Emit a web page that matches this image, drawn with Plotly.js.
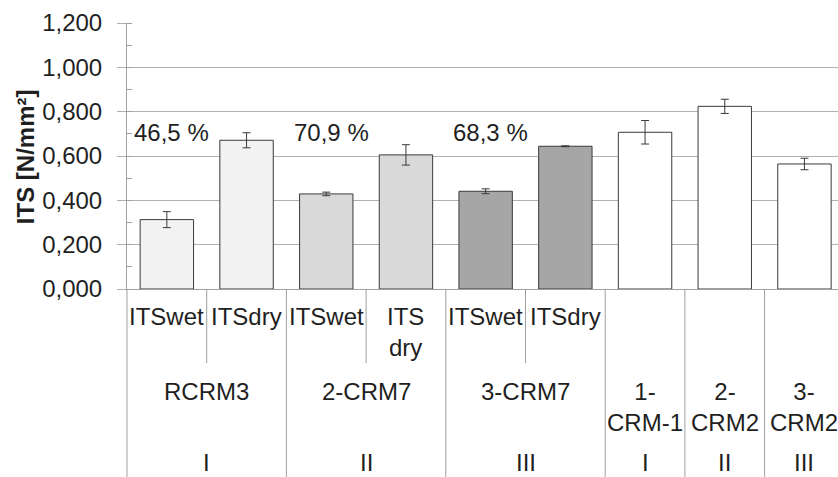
<!DOCTYPE html>
<html>
<head>
<meta charset="utf-8">
<script src="https://cdn.plot.ly/plotly-3.0.1.min.js"></script>
<style>html,body{margin:0;padding:0;overflow:hidden;background:#fff}</style>
</head>
<body>
<div id="chart" style="width:838px;height:477px"></div>
<script>
// ---- data ----
const level1 = ['ITSwet','ITSdry','ITSwet','ITS<br>dry','ITSwet','ITSdry','','',''];
const level2 = ['RCRM3','2-CRM7','3-CRM7','1-<br>CRM-1','2-<br>CRM2','3-<br>CRM2'];
const level2Span = [2,2,2,1,1,1];
const level3 = ['I','II','III','I','II','III'];
const itsValues = [0.313,0.671,0.429,0.605,0.441,0.644,0.707,0.824,0.564];
const itsErrors = [0.036,0.034,0.008,0.046,0.011,0.002,0.053,0.032,0.026];
const ratioLabels = ['46,5 %','70,9 %','68,3 %'];
const ratioBarIndex = [0,2,4];
const ratioY = 0.708;
const yTickVals = [0,0.2,0.4,0.6,0.8,1.0,1.2];
const yTitle = 'ITS [N/mm²]';

// ---- styles ----
const barColors = ['#f2f2f2','#f2f2f2','#d9d9d9','#d9d9d9','#a6a6a6','#a6a6a6','#ffffff','#ffffff','#ffffff'];
const FONT = '"Liberation Sans", Arial, sans-serif';
const TXT = '#1f1f1f';
const SEP = '#a0a0a0';
const FS = 24;

const xIdx = itsValues.map((_, i) => i);

const trace = {
  type: 'bar',
  x: xIdx,
  y: itsValues,
  marker: {color: barColors, line: {color: '#3a3a3a', width: 1}},
  error_y: {type: 'data', array: itsErrors, visible: true, color: '#3a3a3a', thickness: 1, width: 4},
  hoverinfo: 'none'
};

const annotations = [];
const shapes = [];

// level 1 labels
level1.forEach((t, i) => {
  if (!t) return;
  annotations.push({xref:'x', yref:'paper', x:i, y:-0.05, yanchor:'top', xanchor:'center',
    text:t, showarrow:false, font:{family:FONT, size:FS, color:TXT}, align:'center', borderpad:0});
});

// group separators & level2/level3 labels
let start = 0;
const fullY = -188/266;
const shortY = (289.3-363.3)/266;
level2.forEach((t, g) => {
  const span = level2Span[g];
  const center = start + (span - 1) / 2;
  annotations.push({xref:'x', yref:'paper', x:center, y:-0.332, yanchor:'top', xanchor:'center',
    text:t, showarrow:false, font:{family:FONT, size:FS, color:TXT}, align:'center', borderpad:0});
  annotations.push({xref:'x', yref:'paper', x:center, y:-0.598, yanchor:'top', xanchor:'center',
    text:level3[g], showarrow:false, font:{family:FONT, size:FS, color:TXT}, borderpad:0});
  for (let k = 1; k < span; k++) {
    const xs = start + k - 0.5;
    shapes.push({type:'line', xref:'x', yref:'paper', x0:xs, x1:xs, y0:0, y1:shortY,
      line:{color:SEP, width:1}});
  }
  const xe = start + span - 0.5;
  shapes.push({type:'line', xref:'x', yref:'paper', x0:xe, x1:xe, y0:0, y1:fullY,
    line:{color:SEP, width:1}});
  start += span;
});
shapes.push({type:'line', xref:'paper', yref:'paper', x0:0, x1:0, y0:0, y1:fullY,
  line:{color:SEP, width:1}});

// ratio labels
ratioLabels.forEach((t, k) => {
  annotations.push({xref:'x', yref:'y', x:ratioBarIndex[k], y:ratioY, xshift:5,
    yanchor:'middle', xanchor:'center', text:t, showarrow:false,
    font:{family:FONT, size:FS, color:TXT}});
});

// y-axis title
annotations.push({xref:'paper', yref:'paper', x:(25-127)/711, y:(289.3-157.5)/266,
  xanchor:'center', yanchor:'middle', textangle:-90, text:'<b>'+yTitle+'</b>', showarrow:false,
  font:{family:FONT, size:FS, color:TXT}, borderpad:0});

const layout = {
  width: 838, height: 477,
  margin: {l:127, r:0, t:23, b:188, pad:0},
  paper_bgcolor: '#fff', plot_bgcolor: '#fff',
  separators: ',.',
  showlegend: false,
  bargap: 0.33,
  font: {family: FONT, size: FS, color: TXT},
  xaxis: {
    type:'linear', range:[-0.5, 8.421], showticklabels:false, showgrid:false,
    zeroline:false, showline:true, linecolor:SEP, linewidth:1, ticks:'', fixedrange:true
  },
  yaxis: {
    range:[0,1.2], tickvals:yTickVals, tickformat:'.3f',
    showgrid:true, gridcolor:'#b0b0b0', gridwidth:1,
    zeroline:false, showline:true, linecolor:SEP, linewidth:1,
    ticks:'outside', ticklen:9, tickcolor:'#b0b0b0', ticklabelstandoff:10,
    tickfont:{family:FONT, size:FS, color:TXT},
    minor:{dtick:0.1, ticks:'inside', ticklen:5, tickcolor:SEP, showgrid:false},
    fixedrange:true
  },
  annotations: annotations,
  shapes: shapes
};

Plotly.newPlot('chart', [trace], layout, {staticPlot:true, displayModeBar:false});
</script>
</body>
</html>
